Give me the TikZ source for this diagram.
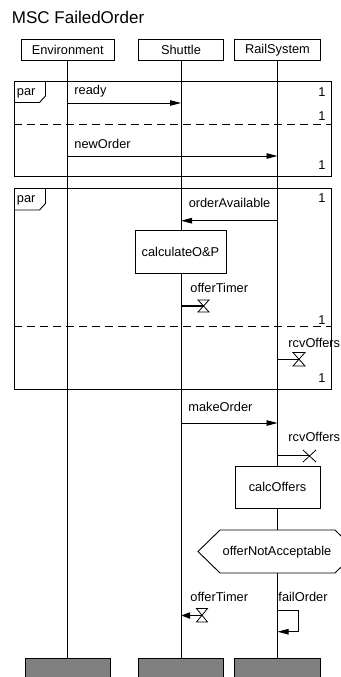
\documentclass[tikz,border=0pt]{standalone}
\usepackage{fontspec}
\setmainfont{Liberation Sans}
\usetikzlibrary{arrows.meta}
\begin{document}
\begin{tikzpicture}[x=1pt,y=-1pt, line width=0.9pt,
  txt/.style={font=\fontsize{12.8}{15}\selectfont, inner sep=0pt},
  lbl/.style={txt, anchor=base west},
  one/.style={txt, anchor=base east},
  head/.style={draw, txt, minimum height=21pt, inner sep=0pt},
  endbox/.style={draw=black, fill={rgb,255:red,128;green,128;blue,128}, minimum height=21pt, inner sep=0pt, line width=0.7pt},
  msg/.style={-{Triangle[length=11pt,width=5.5pt]}},
  sep/.style={dash pattern=on 8pt off 5pt},
  actbox/.style={draw, fill=white, txt, inner sep=0pt},
  thick line/.style={line width=1.8pt},
]
\fill[white] (0,0) rectangle (340,677);
\useasboundingbox (0,0) rectangle (340,677);

% title
\node[anchor=base west, font=\fontsize{17}{20}\selectfont, inner sep=0pt] (title) at (11.5,23.5) {MSC FailedOrder};

% instance heads
\node[head, minimum width=93pt] (env) at (67.7,49.7) {Environment};
\node[head, minimum width=85pt] (shu) at (181,49.7) {Shuttle};
\node[head, minimum width=86.5pt] (rail) at (277.5,49.7) {RailSystem};

% instance ends
\node[endbox, minimum width=85pt] (envE) at (67.7,668.5) {};
\node[endbox, minimum width=85pt] (shuE) at (181,668.5) {};
\node[endbox, minimum width=86pt] (railE) at (277.5,668.5) {};

% lifelines
\draw (env.south) -- (envE.north);
\draw (shu.south) -- (shuE.north);
\draw (rail.south) -- (railE.north);

% ---------- par frame 1 ----------
\draw (14,81) rectangle (331,176);
\draw (14,102.5) -- (39.5,102.5) -- (45.5,96) -- (45.5,81);
\node[lbl] (par1) at (16.5,95.5) {par};
\draw[sep] (14,124) -- (331,124);
\node[one] (o1) at (326,96.7) {1};
\node[one] (o2) at (326,120.5) {1};
\node[one] (o3) at (326,169.5) {1};

\node[lbl] (mready) at (74,94.3) {ready};
\draw[msg] (env.south |- 0,103) -- (shu.south |- 0,103);
\node[lbl] (mnew) at (74,148.3) {newOrder};
\draw[msg] (env.south |- 0,156) -- (rail.south |- 0,156);

% ---------- par frame 2 ----------
\draw (14,188.3) rectangle (331,389);
\draw (14,210) -- (39.5,210) -- (45.5,203.5) -- (45.5,188.3);
\node[lbl] (par2) at (16.5,202.5) {par};
\node[one] (o4) at (326,202.7) {1};
\node[one] (o5) at (326,324.3) {1};
\node[one] (o6) at (326,382.8) {1};
\draw[sep] (14,326.7) -- (331,326.7);

\node[lbl] (mavail) at (188.3,207.3) {orderAvailable};
\draw[msg] (rail.south |- 0,220.7) -- (shu.south |- 0,220.7);

\node[actbox, minimum width=91pt, minimum height=42.6pt] (calc) at (180.5,252) {calculateO\&P};

% offerTimer set
\node[lbl] (tset1) at (190,292.3) {offerTimer};
\coordinate (hg1) at (203.5,306);
\draw[thick line] (shu.south |- hg1) -- (hg1);
\draw[line width=0.8pt] (198,300) -- (209,300) -- (198,312) -- (209,312) -- cycle;

% rcvOffers set
\node[lbl] (tset2) at (288,347.7) {rcvOffers};
\coordinate (hg2) at (299,359);
\draw (rail.south |- hg2) -- (hg2);
\draw[line width=0.8pt] (293,352.5) -- (305,352.5) -- (293,366) -- (305,366) -- cycle;

% ---------- after frames ----------
\node[lbl] (mmake) at (188,411.7) {makeOrder};
\draw[msg] (shu.south |- 0,423) -- (rail.south |- 0,423);

% rcvOffers reset
\node[lbl] (treset) at (288,441.7) {rcvOffers};
\coordinate (xr) at (309.5,455.7);
\draw (rail.south |- xr) -- (xr);
\draw[line width=0.8pt] (303,450) -- (316,462) (303,462) -- (316,450);

\node[actbox, minimum width=85pt, minimum height=42.7pt] (calco) at (277.5,487.4) {calcOffers};

% condition
\draw[fill=white] (198,551.5) -- (220,530) -- (335,530) -- (357,551.5) -- (335,573) -- (220,573) -- cycle;
\node[txt] (cond) at (277,551.8) {offerNotAcceptable};

% offerTimer timeout
\node[lbl] (tout) at (190,601.7) {offerTimer};
\coordinate (hg3) at (202,615.5);
\draw[line width=0.8pt] (196.5,608.5) -- (207.5,608.5) -- (196.5,622) -- (207.5,622) -- cycle;
\draw[thick line, -{Triangle[length=9pt,width=6pt]}] (hg3) -- (shu.south |- hg3);

% failOrder self message
\node[lbl] (mfail) at (278,601.7) {failOrder};
\draw[msg] (rail.south |- 0,610) -- (298,610) -- (298,631.7) -- (rail.south |- 0,631.7);
\end{tikzpicture}
\end{document}
